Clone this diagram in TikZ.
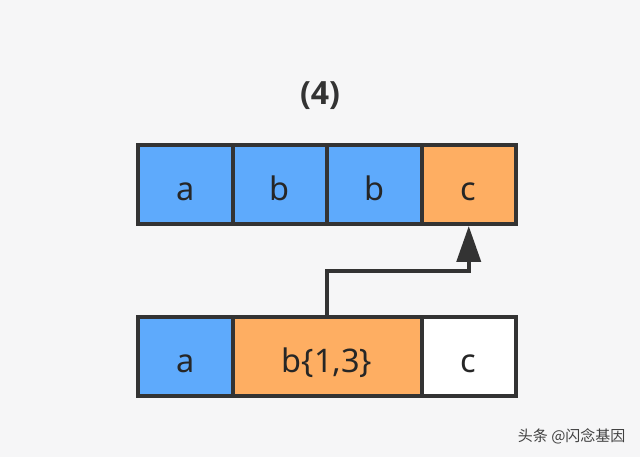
\documentclass[tikz,border=0pt]{standalone}
\usepackage{xcolor}
\usepackage{tikz}
\usepackage{fontspec}
\setmainfont{Noto Sans}
\newfontfamily\titlefont{Open Sans}
\newfontfamily\cjk{Noto Sans CJK SC}
\usetikzlibrary{arrows.meta}
\definecolor{bgGray}{HTML}{F6F6F7}
\definecolor{cellBlue}{HTML}{5EAAFC}
\definecolor{cellOrange}{HTML}{FEAE62}
\definecolor{lineDark}{HTML}{333333}
\begin{document}
\begin{tikzpicture}
                \tikzset{x={(1pt, 0pt)}, y={(0pt, -1pt)}}
                \tikzset{cell/.style={draw=lineDark, line width=4pt, minimum height=79pt, minimum width=94.5pt,
                                      inner sep=0pt, text=black!85, text height=32pt, text depth=0pt,
                                      font=\fontsize{32.5}{38}\selectfont}}
                \fill[bgGray] (0, 0) rectangle (640, 457);
                \useasboundingbox (0, 0) rectangle (640, 457);
                \node[font=\titlefont\bfseries\fontsize{32}{38}\selectfont, text=black!80] (title) at (320, 96) {(4)};
                % top row
                \node[cell, fill=cellBlue] (t1) at (185.25, 184.5) {a};
                \node[cell, fill=cellBlue] (t2) at (279.75, 184.5) {b};
                \node[cell, fill=cellBlue] (t3) at (374.25, 184.5) {b};
                \node[cell, fill=cellOrange] (t4) at (468.75, 184.5) {c};
                % bottom row
                \node[cell, fill=cellBlue] (b1) at (185.25, 356.5) {a};
                \node[cell, fill=cellOrange, minimum width=189pt] (b2) at (327, 356.5) {b\{1,3\}};
                \node[cell, fill=white] (b3) at (468.75, 356.5) {c};
                \draw[draw=lineDark, line width=4pt, -{Triangle[width=24pt, length=36pt]}]
                    (b2.north) -- ++(0, -44) -| (t4.south);
                \node[font=\cjk\fontsize{15}{18}\selectfont, text=black!75, anchor=east] (mark) at (629, 436) {头条 @闪念基因};
            \end{tikzpicture}
\end{document}
